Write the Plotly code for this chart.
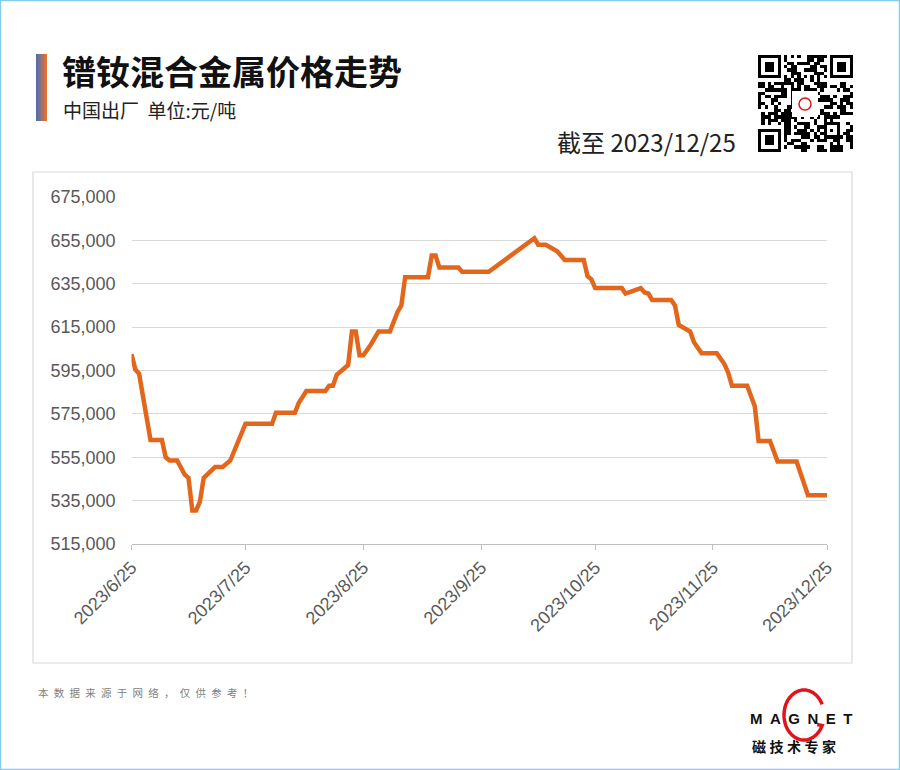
import hashlib
import math
import plotly.graph_objects as go

W, H = 900, 770


def px(x):
    return x / W


def py(y):
    return 1 - y / H


# ---------------- data ----------------
dates = [
    "2023-06-25", "2023-06-26", "2023-06-27", "2023-06-30", "2023-07-03", "2023-07-04",
    "2023-07-05", "2023-07-07", "2023-07-09", "2023-07-10", "2023-07-11", "2023-07-12",
    "2023-07-13", "2023-07-14", "2023-07-17", "2023-07-19", "2023-07-21", "2023-07-25",
    "2023-08-01", "2023-08-02", "2023-08-07", "2023-08-08", "2023-08-10", "2023-08-15",
    "2023-08-16", "2023-08-17", "2023-08-18", "2023-08-21", "2023-08-22", "2023-08-23",
    "2023-08-24", "2023-08-25", "2023-08-27", "2023-08-29", "2023-09-01", "2023-09-03",
    "2023-09-04", "2023-09-05", "2023-09-11", "2023-09-12", "2023-09-13", "2023-09-14",
    "2023-09-19", "2023-09-20", "2023-09-27", "2023-10-09", "2023-10-10", "2023-10-12",
    "2023-10-15", "2023-10-17", "2023-10-22", "2023-10-23", "2023-10-24", "2023-10-25",
    "2023-11-01", "2023-11-02", "2023-11-06", "2023-11-07", "2023-11-08", "2023-11-09",
    "2023-11-14", "2023-11-15", "2023-11-16", "2023-11-19", "2023-11-20", "2023-11-22",
    "2023-11-26", "2023-11-28", "2023-11-29", "2023-11-30", "2023-12-04", "2023-12-06",
    "2023-12-07", "2023-12-10", "2023-12-12", "2023-12-17", "2023-12-20", "2023-12-25",
]
prices = [
    602500, 595500, 593500, 563000, 563000, 555000,
    553500, 553500, 547000, 545500, 530500, 530500,
    534500, 545500, 550500, 550500, 553500, 570500,
    570500, 575500, 575500, 580000, 585500, 585500,
    588000, 588000, 593000, 597500, 613000, 613000,
    602000, 602000, 607000, 613000, 613000, 622000,
    625000, 638000, 638000, 648000, 648000, 642500,
    642500, 640500, 640500, 656000, 653000, 653000,
    650000, 646000, 646000, 638500, 637000, 633000,
    633000, 630500, 633000, 631000, 630500, 627500,
    627500, 625000, 616000, 613000, 608000, 603000,
    603000, 598000, 594000, 588000, 588000, 578500,
    562500, 562500, 553000, 553000, 537500, 537500,
]
tick_dates = ["2023-06-25", "2023-07-25", "2023-08-25", "2023-09-25",
              "2023-10-25", "2023-11-25", "2023-12-25"]
tick_labels = ["2023/6/25", "2023/7/25", "2023/8/25", "2023/9/25",
               "2023/10/25", "2023/11/25", "2023/12/25"]
y_ticks = [515000, 535000, 555000, 575000, 595000, 615000, 635000, 655000, 675000]

title_text = "镨钕混合金属价格走势"
subtitle_text = "中国出厂  单位:元/吨"
date_text = "截至 2023/12/25"
footer_text = "本数据来源于网络，仅供参考！"

# ---------------- figure ----------------
fig = go.Figure()

fig.add_trace(go.Scatter(
    x=dates, y=prices, mode="lines",
    line=dict(color="#E2661B", width=4.5),
    hoverinfo="skip", showlegend=False, xaxis="x", yaxis="y",
))

# decorative QR-like block (not data)
N = 29
qr = [[0] * N for _ in range(N)]
for i in range(N):
    for j in range(N):
        h = hashlib.md5(f"{i}-{j}".encode()).digest()[0]
        qr[i][j] = 1 if h % 2 == 0 else 0
for (r0, c0) in [(0, 0), (0, N - 7), (N - 7, 0)]:
    for i in range(-1, 8):
        for j in range(-1, 8):
            r, c = r0 + i, c0 + j
            if 0 <= r < N and 0 <= c < N:
                if 0 <= i <= 6 and 0 <= j <= 6:
                    b = (i in (0, 6) or j in (0, 6) or (2 <= i <= 4 and 2 <= j <= 4))
                    qr[r][c] = 1 if b else 0
                else:
                    qr[r][c] = 0
for k in range(8, N - 8):
    qr[6][k] = 1 if k % 2 == 0 else 0
    qr[k][6] = 1 if k % 2 == 0 else 0
for i in range(5):
    for j in range(5):
        b = (i in (0, 4) or j in (0, 4) or (i == 2 and j == 2))
        qr[20 + i][20 + j] = 1 if b else 0

fig.add_trace(go.Heatmap(
    z=qr, x=list(range(N)), y=list(range(N)),
    colorscale=[[0, "white"], [1, "black"]], zmin=0, zmax=1,
    showscale=False, hoverinfo="skip", xaxis="x2", yaxis="y2",
))

shapes = []
# outer light-blue frame
shapes.append(dict(type="rect", xref="paper", yref="paper",
                   x0=px(0.5), x1=px(899.5), y0=py(769.5), y1=py(0.5),
                   line=dict(color="#86CDEB", width=1.5), fillcolor="rgba(0,0,0,0)", layer="above"))
# card border
shapes.append(dict(type="rect", xref="paper", yref="paper",
                   x0=px(33), x1=px(852), y0=py(663), y1=py(172),
                   line=dict(color="#D9D9D9", width=1.2), fillcolor="rgba(0,0,0,0)", layer="below"))
# gradient bar beside title
c1 = (80, 110, 175)
c2 = (232, 112, 48)
nb = 11
for k in range(nb):
    t = k / (nb - 1)
    col = tuple(round(c1[m] + (c2[m] - c1[m]) * t) for m in range(3))
    shapes.append(dict(type="rect", xref="paper", yref="paper",
                       x0=px(36 + k), x1=px(37 + k), y0=py(121), y1=py(54),
                       line=dict(width=0), fillcolor="rgb(%d,%d,%d)" % col))
# QR centre logo
shapes.append(dict(type="rect", xref="paper", yref="paper",
                   x0=px(792), x1=px(818), y0=py(117), y1=py(91),
                   line=dict(width=0), fillcolor="white"))
shapes.append(dict(type="circle", xref="paper", yref="paper",
                   x0=px(799), x1=px(811), y0=py(110), y1=py(98),
                   line=dict(color="#E0141C", width=1.5)))

# MAGNET ring logo
cx, cy, rx, ry = 804, 715, 20, 25
pts = []
a = 25
while a <= 335:
    rad = math.radians(a)
    pts.append((cx + rx * math.cos(rad), cy - ry * math.sin(rad)))
    a += 5
path = "M " + " L ".join("%.5f,%.5f" % (px(x), py(y)) for x, y in pts)
end = pts[-1]
path += " L %.5f,%.5f" % (px(end[0] - 5), py(end[1] - 1))
shapes.append(dict(type="path", xref="paper", yref="paper", path=path,
                   line=dict(color="#E0141C", width=3.5)))

annotations = [
    dict(text="<b>" + title_text + "</b>", x=px(60), y=py(71), xref="paper", yref="paper",
         xanchor="left", yanchor="middle", showarrow=False,
         font=dict(family="Noto Sans CJK SC", size=34, color="#111111")),
    dict(text=subtitle_text, x=px(61), y=py(110), xref="paper", yref="paper",
         xanchor="left", yanchor="middle", showarrow=False,
         font=dict(family="Noto Sans CJK SC", size=19, color="#222222")),
    dict(text=date_text, x=px(738), y=py(142), xref="paper", yref="paper",
         xanchor="right", yanchor="middle", showarrow=False,
         font=dict(family="Noto Sans CJK SC", size=24, color="#222222")),
    dict(text="\u2002".join(footer_text), x=px(36), y=py(692), xref="paper", yref="paper",
         xanchor="left", yanchor="middle", showarrow=False,
         font=dict(family="Noto Sans CJK SC", size=10.5, color="#7F7F7F")),
    dict(text="<b>" + "\u2002".join("MAGNET") + "</b>", x=px(801), y=py(718), xref="paper", yref="paper",
         xanchor="center", yanchor="middle", showarrow=False,
         font=dict(family="Liberation Sans", size=15, color="#111111")),
    dict(text="<b>" + "\u2005".join("磁技术专家") + "</b>", x=px(794), y=py(746), xref="paper", yref="paper",
         xanchor="center", yanchor="middle", showarrow=False,
         font=dict(family="Noto Sans CJK SC", size=14, color="#111111")),
]

fig.update_layout(
    width=W, height=H,
    margin=dict(l=0, r=0, t=0, b=0, autoexpand=False),
    paper_bgcolor="white", plot_bgcolor="white",
    showlegend=False,
    font=dict(family="Liberation Sans, Arial, sans-serif", color="#595959"),
    xaxis=dict(
        domain=[px(131.5), px(827)], type="date",
        range=["2023-06-25", "2023-12-25"],
        tickvals=tick_dates, ticktext=tick_labels, tickangle=-45,
        tickfont=dict(size=18, color="#595959"),
        showgrid=False, zeroline=False,
        showline=True, linecolor="#BFBFBF", linewidth=1,
        ticks="outside", ticklen=5, tickcolor="#BFBFBF",
        anchor="y",
    ),
    yaxis=dict(
        domain=[py(544), py(197)], range=[515000, 675000],
        tickvals=y_ticks, tickformat=",",
        tickfont=dict(size=18, color="#595959"),
        showgrid=True, gridcolor="#D9D9D9", gridwidth=1,
        zeroline=False, showline=False, ticks="", ticklabelstandoff=15,
        anchor="x",
    ),
    xaxis2=dict(domain=[px(758), px(853)], range=[-0.5, N - 0.5], visible=False,
                anchor="y2", fixedrange=True),
    yaxis2=dict(domain=[py(152), py(55)], range=[N - 0.5, -0.5], visible=False,
                anchor="x2", fixedrange=True),
    shapes=shapes,
    annotations=annotations,
)

fig.write_html("out.html", config={"displayModeBar": False, "staticPlot": True},
               post_script="document.body.style.margin='0px';")
